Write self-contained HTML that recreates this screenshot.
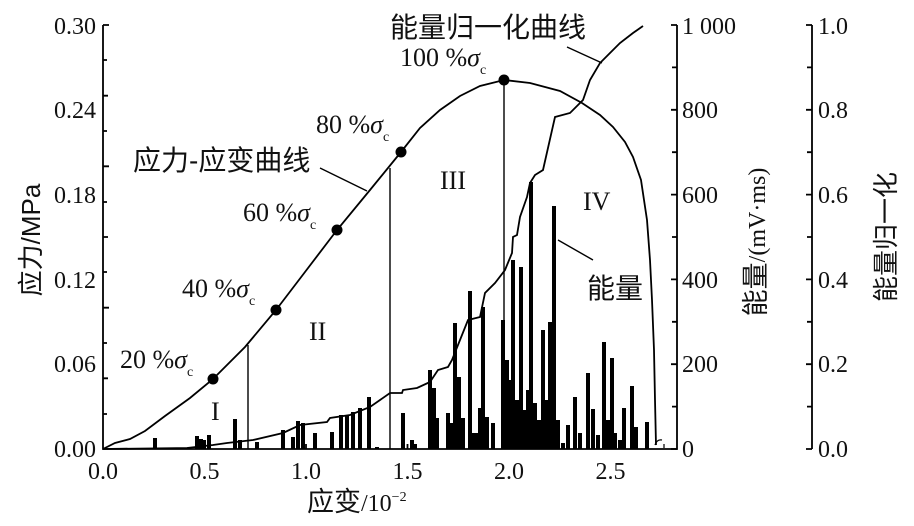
<!DOCTYPE html>
<html><head><meta charset="utf-8"><style>
html,body{margin:0;padding:0;background:#fff;}
svg{display:block;}
text{fill:#111;}
</style></head><body>
<svg width="914" height="526" viewBox="0 0 914 526" xmlns="http://www.w3.org/2000/svg">
<rect width="914" height="526" fill="#fff"/>
<g stroke="#000" stroke-width="4" fill="none">
<path d="M155,449V438 M197,449V436 M201,449V439 M204,449V440 M209,449V435 M235,449V419 M240,449V440 M257,449V442 M283,449V430 M293,449V437 M298,449V421 M303,449V423 M315,449V433 M332,449V432 M341,449V415 M347,449V415 M353,449V412 M360,449V408 M369,449V397 M377,449V447 M403,449V413 M412,449V440 M415,449V444
M430,449V370 M434,449V388 M437,449V418 M448,449V413 M452,449V423 M455,449V323 M459,449V377 M463,449V418 M470,449V291 M474,449V433 M478,449V433 M480,449V408 M483,449V307 M487,449V417 M493,449V423 M503,449V320 M507,449V360 M510,449V380 M513,449V260 M517,449V400 M521,449V267 M524,449V410 M528,449V390 M531,449V182 M535,449V403 M539,449V420 M543,449V330 M546,449V400 M550,449V322 M554,449V206 M558,449V420 M563,449V443 M568,449V425 M575,449V397 M580,449V433 M588,449V373 M593,449V409 M598,449V435 M604,449V342 M608,449V420 M612,449V358 M615,449V433 M620,449V440 M624,449V408 M632,449V386 M636,449V427 M647,449V422"/>
</g>
<g stroke="#000" stroke-width="1.8" fill="none">
<path d="M103,25V449H677V25 M812,25V449"/>
<path d="M103,25h6 M103,95.7h5 M103,166.3h6 M103,237h5 M103,307.7h6 M103,378.3h5 M103,131h4 M103,60h4 M103,202h4 M103,272h4 M103,343h4 M103,414h4"/>
<path d="M204.5,449v-5 M306,449v-5 M407.5,449v-5 M509,449v-5 M610.5,449v-5"/>
<path d="M677,25h-6 M677,67.4h-5 M677,109.8h-6 M677,152.2h-5 M677,194.6h-6 M677,237h-5 M677,279.4h-6 M677,321.8h-5 M677,364.2h-6 M677,406.6h-5 M677,449h-6"/>
<path d="M812,25h-6 M812,67.4h-5 M812,109.8h-6 M812,152.2h-5 M812,194.6h-6 M812,237h-5 M812,279.4h-6 M812,321.8h-5 M812,364.2h-6 M812,406.6h-5 M812,449h-6"/>
<path d="M103,449 L115,443 L130,439 L145,431 L165,416 L190,398 L213,379 L245,347 L276,310 L305,272 L337,230 L370,190 L401,152 L420,128 L440,110 L460,96 L480,86 L504,80 L530,83 L560,91 L582,103 L600,115 L613,127 L625,142 L633,157 L641,180 L647,220 L650,260 L652,300 L654,350 L655,400 L656,445"/>
<path d="M655,445 q2,-6 7,-5 M664,444v4" stroke-width="1.2"/>
<path d="M248,449V345 M390,449V168 M504,449V80" stroke-width="1.4"/>
<path d="M103,449 L187,448 L213,445 L227,443 L253,440 L283,433 L300,425 L327,422 L330,418 L350,415 L370,407 L390,393 L402,393 L403,390 L417,388 L430,382 L438,370 L448,367 L452,360 L460,340 L468,320 L480,317 L485,293 L495,283 L505,270 L512,253 L513,237 L517,235 L520,217 L527,197 L530,183 L535,175 L543,170 L555,117 L570,113 L583,100 L590,80 L600,63 L610,53 L620,43 L633,33 L643,26"/>
<path d="M567,47 L602,63 M320,168 L367,191 M558,240 L593,260" stroke-width="1.4"/>
</g>
<g fill="#000">
<circle cx="213" cy="379" r="5.5"/><circle cx="276" cy="310" r="5.5"/><circle cx="337" cy="230" r="5.5"/><circle cx="401" cy="152" r="5.5"/><circle cx="504" cy="80" r="5.5"/>
</g>
<g style="font-family:'Liberation Serif',serif;font-size:24px" text-anchor="end">
<text x="96" y="34">0.30</text><text x="96" y="118">0.24</text><text x="96" y="203">0.18</text><text x="96" y="288">0.12</text><text x="96" y="372">0.06</text><text x="96" y="457">0.00</text>
</g>
<g style="font-family:'Liberation Serif',serif;font-size:24px" text-anchor="middle">
<text x="103" y="479">0.0</text><text x="204.5" y="479">0.5</text><text x="306" y="479">1.0</text><text x="407.5" y="479">1.5</text><text x="509" y="479">2.0</text><text x="610.5" y="479">2.5</text>
</g>
<g style="font-family:'Liberation Serif',serif;font-size:24px">
<text x="682" y="34">1 000</text><text x="682" y="118">800</text><text x="682" y="203">600</text><text x="682" y="288">400</text><text x="682" y="372">200</text><text x="682" y="457">0</text>
<text x="818" y="34">1.0</text><text x="818" y="118">0.8</text><text x="818" y="203">0.6</text><text x="818" y="288">0.4</text><text x="818" y="372">0.2</text><text x="818" y="457">0.0</text>
</g>
<text style="font-family:'Liberation Sans','Noto Sans CJK SC',sans-serif;font-size:26px" transform="translate(40,240) rotate(-90)" text-anchor="middle">应力/MPa</text>
<text x="307" y="511" style="font-family:'Liberation Serif','Noto Sans CJK SC',sans-serif;font-size:24px"><tspan style="font-family:'Noto Sans CJK SC',sans-serif;font-size:27px">应变</tspan>/10<tspan style="font-size:14px" dy="-10">−2</tspan></text>
<text style="font-family:'Liberation Serif','Noto Sans CJK SC',sans-serif;font-size:24px" transform="translate(765,242) rotate(-90)" text-anchor="middle"><tspan style="font-family:'Noto Sans CJK SC',sans-serif;font-size:27px">能量</tspan>/(mV·ms)</text>
<text style="font-family:'Liberation Sans','Noto Sans CJK SC',sans-serif;font-size:26px" transform="translate(895,237) rotate(-90)" text-anchor="middle">能量归一化</text>
<g style="font-family:'Liberation Sans','Noto Sans CJK SC',sans-serif;font-size:28px">
<text x="390" y="37">能量归一化曲线</text>
<text x="133" y="170">应力-应变曲线</text>
<text x="587" y="298">能量</text>
</g>
<g style="font-family:'Liberation Serif',serif;font-size:26px">
<text x="400" y="66">100 %<tspan font-style="italic">σ</tspan><tspan style="font-size:14px" dy="8">c</tspan></text>
<text x="316" y="133">80 %<tspan font-style="italic">σ</tspan><tspan style="font-size:14px" dy="8">c</tspan></text>
<text x="243" y="221">60 %<tspan font-style="italic">σ</tspan><tspan style="font-size:14px" dy="8">c</tspan></text>
<text x="182" y="297">40 %<tspan font-style="italic">σ</tspan><tspan style="font-size:14px" dy="8">c</tspan></text>
<text x="120" y="368">20 %<tspan font-style="italic">σ</tspan><tspan style="font-size:14px" dy="8">c</tspan></text>
<text x="211" y="420">I</text>
<text x="309" y="340">II</text>
<text x="440" y="189">III</text>
<text x="583" y="210">IV</text>
</g>
</svg>
</body></html>
